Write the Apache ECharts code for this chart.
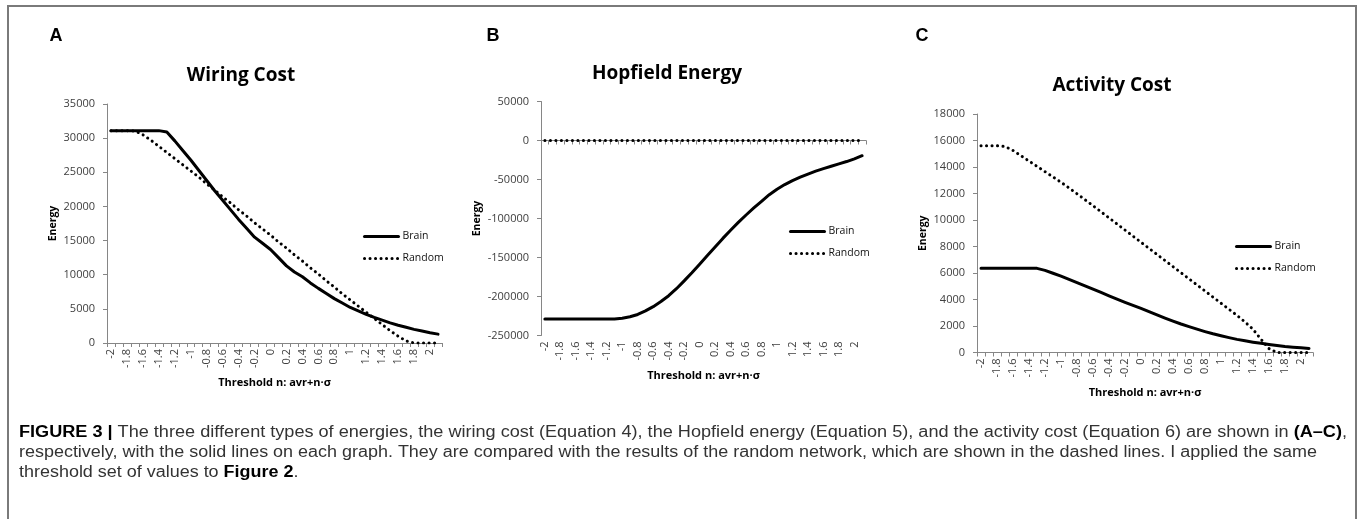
<!DOCTYPE html>
<html><head><meta charset="utf-8">
<script src="https://cdn.jsdelivr.net/npm/echarts@6/dist/echarts.min.js"></script>
<style>html,body{margin:0;padding:0;background:#fff}#c{width:1358px;height:519px}</style>
</head><body><div id="c"></div>
<script>
// ---- DATA ----
const categories = ['-2','-1.9','-1.8','-1.7','-1.6','-1.5','-1.4','-1.3','-1.2','-1.1','-1','-0.9','-0.8','-0.7','-0.6','-0.5','-0.4','-0.3','-0.2','-0.1','0','0.1','0.2','0.3','0.4','0.5','0.6','0.7','0.8','0.9','1','1.1','1.2','1.3','1.4','1.5','1.6','1.7','1.8','1.9','2','2.1'];

const wiringBrain = [31100,31100,31100,31100,31100,31100,31100,30900,29600,28200,26800,25300,23800,22300,20900,19500,18100,16800,15500,14600,13700,12500,11300,10400,9700,8800,8000,7250,6500,5850,5200,4700,4200,3750,3350,2950,2600,2300,2000,1750,1500,1300];
const wiringRandom = [31100,31100,31100,31050,30500,29700,28800,27900,27000,26100,25200,24300,23300,22400,21400,20500,19500,18600,17600,16700,15800,14800,13900,12900,12000,11000,10100,9100,8200,7200,6300,5400,4500,3600,2700,1800,1000,300,0,0,0,0];

const hopfieldBrain = [-229000,-229000,-229000,-229000,-229000,-229000,-229000,-229000,-229000,-228700,-227800,-226000,-223000,-218500,-213000,-206500,-199000,-190000,-180000,-169500,-158500,-147500,-136500,-125500,-115000,-105000,-95500,-86500,-78000,-69500,-62500,-56500,-51500,-47000,-43000,-39300,-36000,-33000,-30000,-27000,-23500,-19500];
const hopfieldRandom = [0,0,0,0,0,0,0,0,0,0,0,0,0,0,0,0,0,0,0,0,0,0,0,0,0,0,0,0,0,0,0,0,0,0,0,0,0,0,0,0,0,0];

const activityBrain = [6350,6350,6350,6350,6350,6350,6350,6350,6200,5980,5760,5520,5280,5030,4780,4530,4280,4030,3790,3560,3330,3090,2840,2600,2370,2150,1950,1760,1580,1410,1260,1120,990,880,780,690,600,520,450,400,350,310];
const activityRandom = [15600,15600,15600,15550,15250,14850,14450,14050,13650,13250,12850,12420,11980,11530,11080,10620,10160,9700,9240,8780,8320,7860,7400,6940,6480,6020,5560,5100,4640,4180,3720,3260,2800,2300,1750,1000,300,0,0,0,0,0];

const seriesNames = ['Brain','Random'];
const chartTitles = ['Wiring Cost','Hopfield Energy','Activity Cost'];
const panelLetters = ['A','B','C'];
const yAxisTitle = 'Energy';
const xAxisTitle = 'Threshold n: avr+n\u00B7\u03C3';
const yMins = [0, -250000, 0];
const yMaxs = [35000, 50000, 18000];
const yIntervals = [5000, 50000, 2000];

const captionSegments = [
  [['b','FIGURE 3 |'],['r',' The three different types of energies, the wiring cost (Equation 4), the Hopfield energy (Equation 5), and the activity cost (Equation 6) are shown in '],['b','(A\u2013C)'],['r',',']],
  [['r','respectively, with the solid lines on each graph. They are compared with the results of the random network, which are shown in the dashed lines. I applied the same']],
  [['r','threshold set of values to '],['b','Figure 2'],['r','.']]
];

// ---- LAYOUT ----
const grids = [
  {left:107, top:104, width:335, height:239},
  {left:541, top:101.5, width:325, height:234},
  {left:977, top:114, width:336, height:238.5}
];
const titlePos = [[241,76],[667,74],[1112,86]];
const letterPos = [[56,36],[493,36],[922,36]];
const legendPos = [[363,231],[789,226],[1235,241]];

const AX = '#868686', TXT = '#404040';
const tickFont = {fontFamily:'Open Sans', fontSize:11, color:TXT};

function xAxisCfg(gi, opts) {
  return Object.assign({
    type:'category', gridIndex:gi, data:categories, boundaryGap:true, position:'bottom',
    axisLine:{show:true, onZero:false, lineStyle:{color:AX, width:1}},
    axisTick:{show:true, interval:0, length:4, lineStyle:{color:AX}},
    axisLabel:Object.assign({interval:1, rotate:90, margin:6}, tickFont),
    splitLine:{show:false}
  }, opts || {});
}
const xAxes = [
  xAxisCfg(0),
  xAxisCfg(1, {axisLine:{show:true, onZero:true, lineStyle:{color:AX, width:1}}, axisLabel:{show:false}}),
  xAxisCfg(2),
  xAxisCfg(1, {axisLine:{show:false, onZero:false}, axisTick:{show:false}})
];
const yAxes = [0,1,2].map(i => ({
  type:'value', gridIndex:i, min:yMins[i], max:yMaxs[i], interval:yIntervals[i],
  axisLine:{show:true, lineStyle:{color:AX, width:1}},
  axisTick:{show:true, length:4, lineStyle:{color:AX}},
  splitLine:{show:false},
  axisLabel:Object.assign({margin:12, formatter:v => String(v)}, tickFont)
}));

const brainData = [wiringBrain, hopfieldBrain, activityBrain];
const randomData = [wiringRandom, hopfieldRandom, activityRandom];
const series = [];
[0,1,2].forEach(i => {
  series.push({name:seriesNames[0], type:'line', xAxisIndex:i, yAxisIndex:i, data:brainData[i],
    symbol:'none', lineStyle:{color:'#000', width:3, cap:'round', join:'round'}, itemStyle:{color:'#000'}, z:3});
  series.push({name:seriesNames[1], type:'line', xAxisIndex:i, yAxisIndex:i, data:randomData[i],
    symbol:'none', lineStyle:{color:'#000', width:3, type:[0.1,5.4], cap:'round'}, itemStyle:{color:'#000'}, z:4});
});

const legends = legendPos.map(p => ({
  data:seriesNames, left:p[0], top:p[1], orient:'vertical', padding:0,
  itemWidth:34, itemHeight:12, itemGap:11, selectedMode:false,
  itemStyle:{color:'rgba(0,0,0,0)', borderWidth:0, opacity:0},
  lineStyle:{width:3},
  textStyle:{fontFamily:'Open Sans', fontSize:10.5, color:'#111', padding:[0,0,0,-1]}
}));

// caption fitting (horizontal condensing to match the reference line widths)
const capFontSize = 16;
const ctx = document.createElement('canvas').getContext('2d');
function segWidth(segs) {
  let w = 0;
  segs.forEach(s => { ctx.font = (s[0] === 'b' ? 'bold ' : '') + capFontSize + 'px "Liberation Sans"'; w += ctx.measureText(s[1]).width; });
  return w;
}
const scale2 = 1298 / segWidth(captionSegments[1]);
const capScales = [1328 / segWidth(captionSegments[0]), scale2, scale2];

const graphics = [];
graphics.push({type:'rect', shape:{x:8, y:6, width:1348, height:540}, style:{fill:'none', stroke:'#7a7a7a', lineWidth:2}, silent:true});
[0,1,2].forEach(i => {
  const g = grids[i];
  graphics.push({type:'text', x:letterPos[i][0], y:letterPos[i][1], style:{text:panelLetters[i], font:'bold 18px "Liberation Sans"', fill:'#000', align:'center', verticalAlign:'middle', textAlign:'center', textVerticalAlign:'middle'}});
  graphics.push({type:'text', x:titlePos[i][0], y:titlePos[i][1], style:{text:chartTitles[i], font:'bold 19px "Open Sans"', fill:'#000', align:'center', verticalAlign:'middle', textAlign:'center', textVerticalAlign:'middle'}});
  graphics.push({type:'text', x:[53,477,923][i], y:g.top + g.height/2, rotation:Math.PI/2, style:{text:yAxisTitle, font:'bold 10.5px "Open Sans"', fill:'#000', align:'center', verticalAlign:'middle', textAlign:'center', textVerticalAlign:'middle'}});
  graphics.push({type:'text', x:g.left + g.width/2, y:g.top + g.height + 40, style:{text:xAxisTitle, font:'bold 11px "Open Sans"', fill:'#000', align:'center', verticalAlign:'middle', textAlign:'center', textVerticalAlign:'middle'}});
});
captionSegments.forEach((segs, k) => {
  const t = segs.map(s => s[0] === 'b' ? '{b|' + s[1] + '}' : s[1]).join('');
  graphics.push({type:'text', x:19, y:433 + k*20, scaleX:capScales[k], scaleY:1,
    style:{text:t, fontFamily:'"Liberation Sans"', fontSize:capFontSize, fill:'#333', align:'left', verticalAlign:'middle', textAlign:'left', textVerticalAlign:'middle',
      rich:{b:{fontFamily:'"Liberation Sans"', fontSize:capFontSize, fontWeight:'bold', fill:'#000'}}}});
});

const chart = echarts.init(document.getElementById('c'), null, {renderer:'canvas'});
chart.setOption({
  backgroundColor:'#fff',
  animation:false,
  grid:grids.map(g => Object.assign({containLabel:false, outerBoundsMode:'none'}, g)),
  xAxis:xAxes,
  yAxis:yAxes,
  legend:legends,
  series:series,
  graphic:graphics
});
</script></body></html>
